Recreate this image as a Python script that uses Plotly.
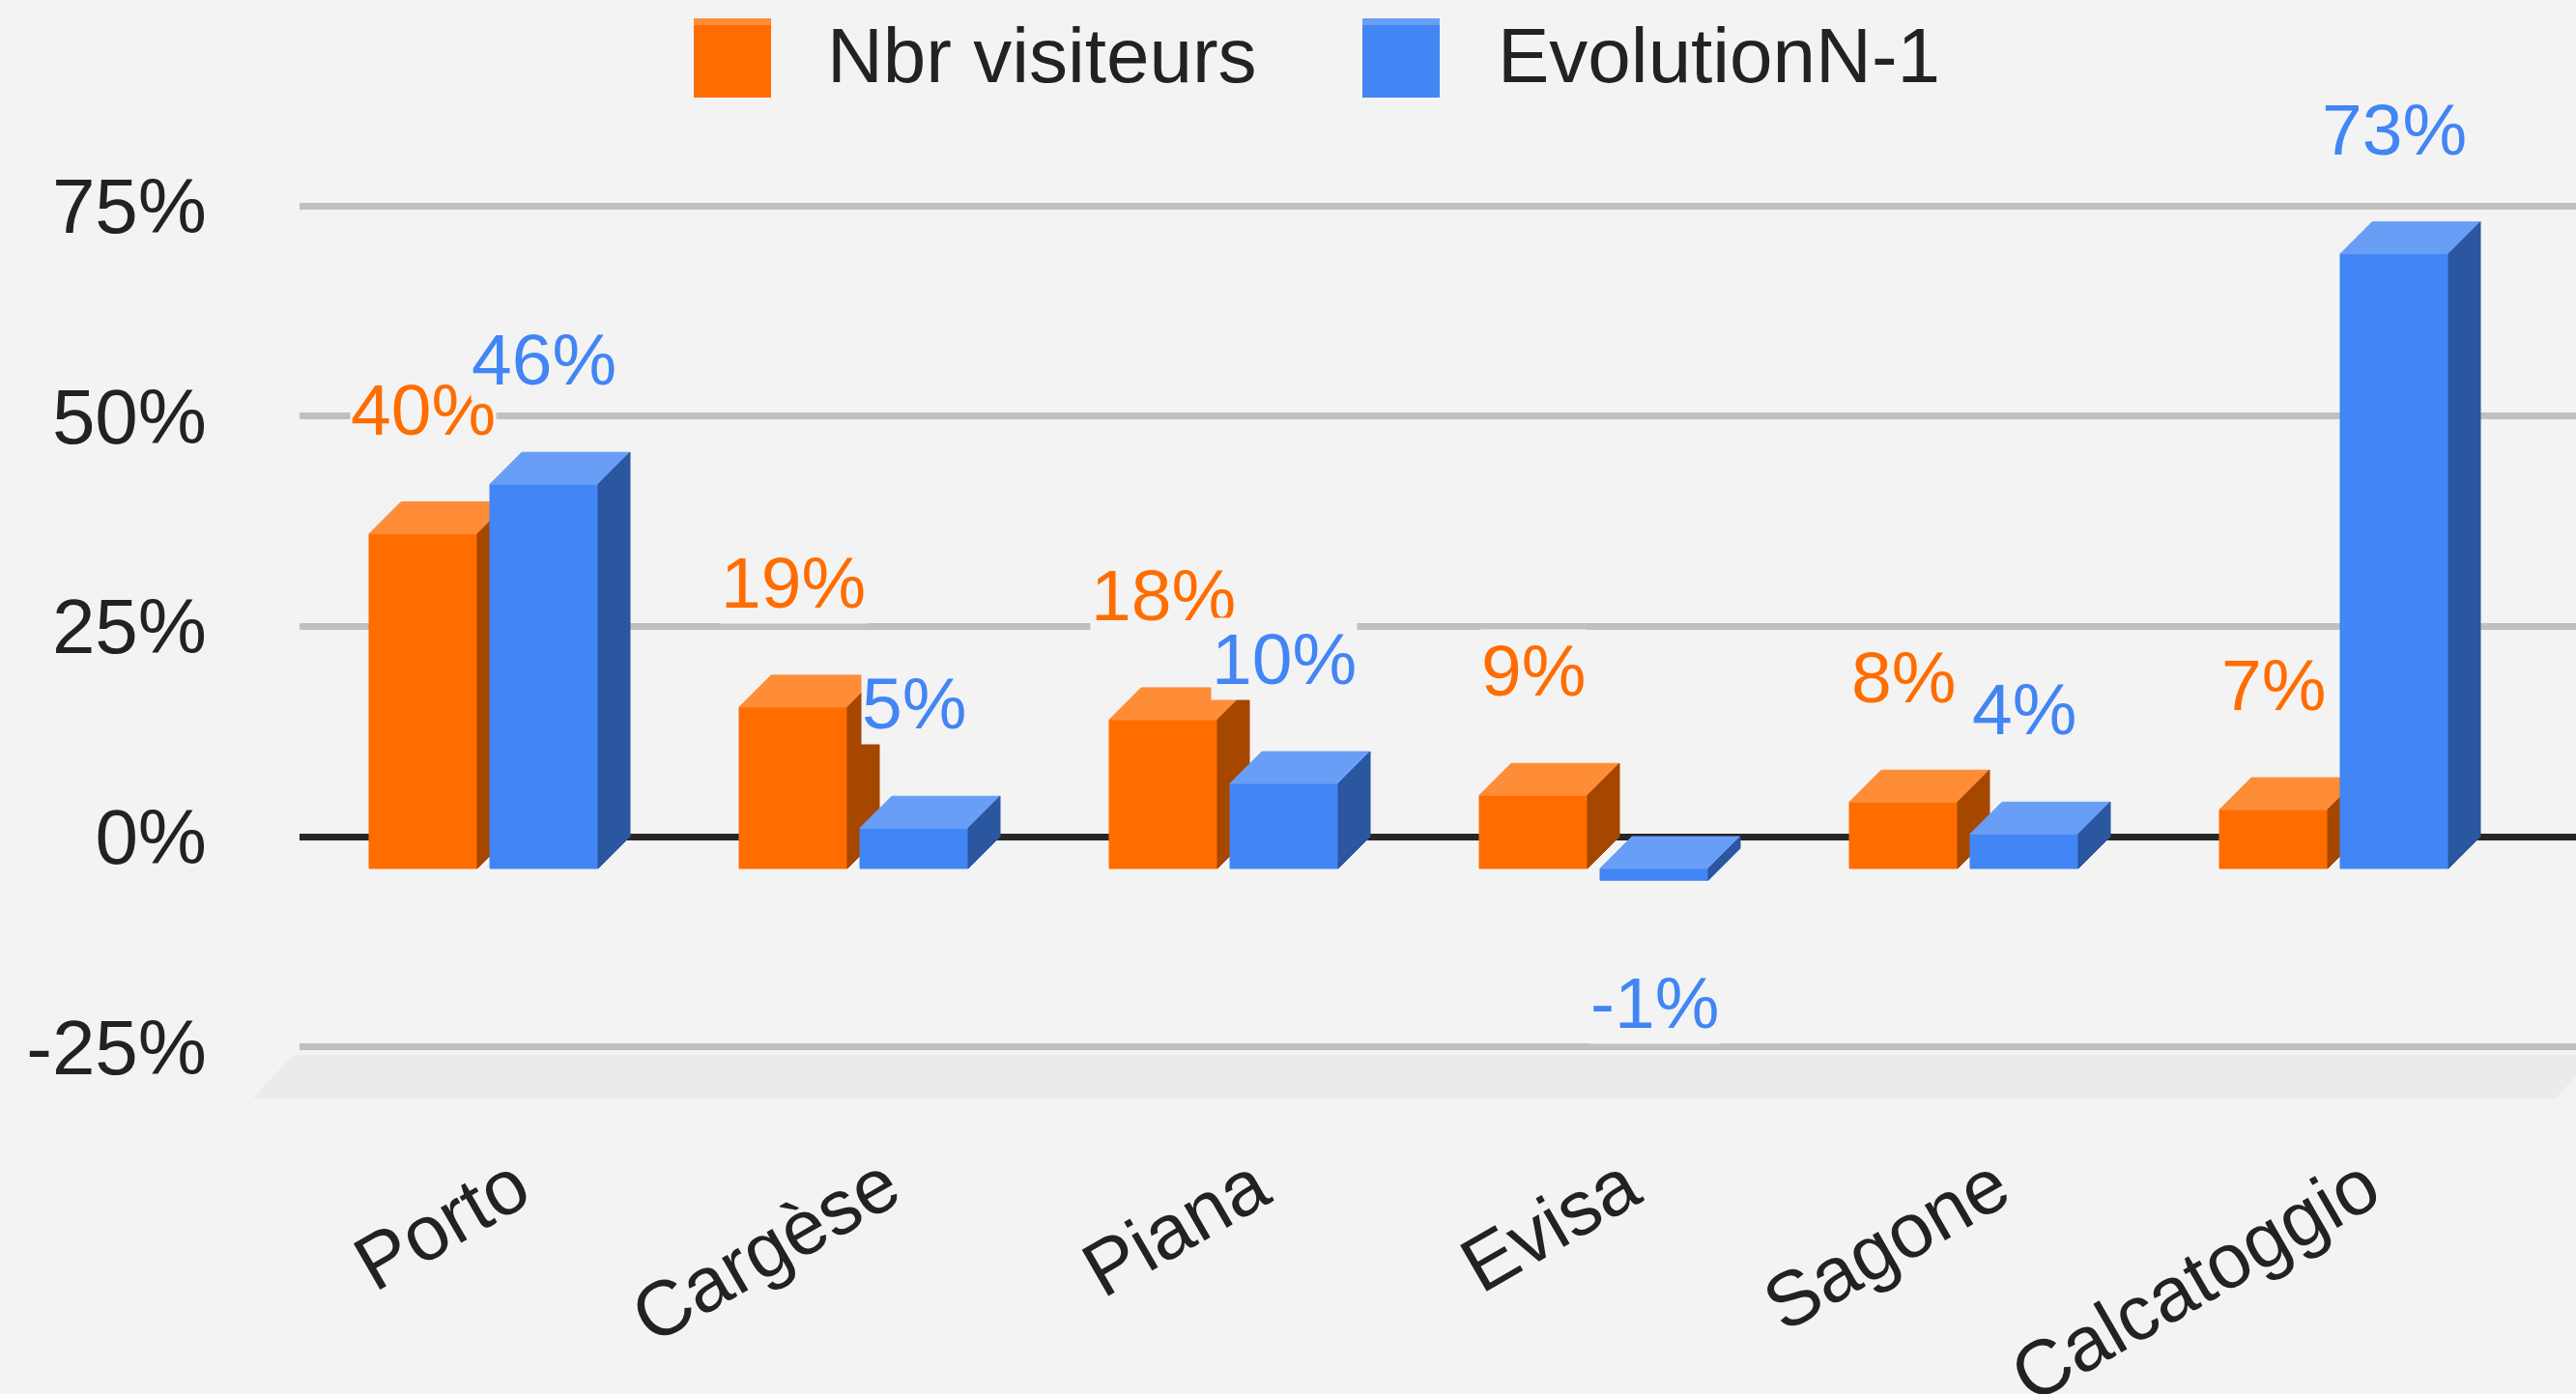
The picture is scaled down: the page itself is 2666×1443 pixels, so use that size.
import plotly.graph_objects as go

# ---------------- data ----------------
categories = ["Porto", "Cargèse", "Piana", "Evisa", "Sagone", "Calcatoggio"]
nbr_visiteurs = [0.398, 0.192, 0.177, 0.087, 0.079, 0.070]
evolution_n1 = [0.457, 0.048, 0.101, -0.014, 0.041, 0.731]
series_names = ["Nbr visiteurs", "EvolutionN-1"]
y_tickvals = [-0.25, 0, 0.25, 0.5, 0.75]
y_ticktext = ["-25%", "0%", "25%", "50%", "75%"]

# ---------------- styling / geometry ----------------
W, H = 2666, 1443
BG = "#f3f3f3"
FONT = "Liberation Sans, Arial, sans-serif"
L_MARGIN = 310
PX_PER_CAT = 383.0      # horizontal pixels per category
PX_PER_UNIT = 870.4     # vertical pixels per 100 %
Y0_PX = 866.0           # pixel row of the 0 % line
CAT0_PX = 533.5         # pixel column of first category centre (back plane)
DEPTH = 33              # 3D depth offset in px
BAR_W = 112             # bar width in px
LABEL_UP = 96           # label centre above bar top (px)
LABEL_DOWN = 160        # label centre below negative bar (px)

x_min = -(CAT0_PX - L_MARGIN) / PX_PER_CAT
x_max = x_min + (W - L_MARGIN) / PX_PER_CAT
y_max = Y0_PX / PX_PER_UNIT
y_min = -(H - Y0_PX) / PX_PER_UNIT


def dx(px):
    return px / PX_PER_CAT


def dy(px):
    return px / PX_PER_UNIT


def px_x(px):
    return (px - L_MARGIN) / (W - L_MARGIN)


def px_y(py):
    return 1 - py / H


series = [
    dict(name=series_names[0], values=nbr_visiteurs, left=-118.5,
         front="#ff6d01", top="#ff8c37", side="#a64700"),
    dict(name=series_names[1], values=evolution_n1, left=6.5,
         front="#4285f4", top="#699ef6", side="#2b56a0"),
]

fig = go.Figure()


def face_trace(xs, ys, color):
    return go.Scatter(x=xs, y=ys, mode="lines", fill="toself",
                      fillcolor=color, line=dict(width=1, color=color),
                      hoverinfo="skip", showlegend=False)


annotations = []
for s in series:
    fx, fy, tx, ty, sx, sy = [], [], [], [], [], []
    ox, oy = dx(DEPTH), dy(DEPTH)
    for i, v in enumerate(s["values"]):
        xl = i + dx(s["left"])
        xr = xl + dx(BAR_W)
        t = max(v, 0.0)
        b = min(v, 0.0)
        fx += [xl - ox, xr - ox, xr - ox, xl - ox, xl - ox, None]
        fy += [b - oy, b - oy, t - oy, t - oy, b - oy, None]
        tx += [xl - ox, xr - ox, xr, xl, xl - ox, None]
        ty += [t - oy, t - oy, t, t, t - oy, None]
        sx += [xr - ox, xr, xr, xr - ox, xr - ox, None]
        sy += [t - oy, t, b, b - oy, t - oy, None]
        # data label
        lx = i + dx(s["left"] + BAR_W / 2 - DEPTH)
        ly = v + dy(LABEL_UP) if v >= 0 else v - dy(LABEL_DOWN)
        annotations.append(dict(
            x=lx, y=ly, xref="x", yref="y", text=f"{round(v * 100):d}%",
            showarrow=False, xanchor="center", yanchor="middle",
            font=dict(family=FONT, size=75, color=s["front"]),
            bgcolor=BG, borderpad=0))
    fig.add_trace(face_trace(fx, fy, s["front"]))
    fig.add_trace(face_trace(tx, ty, s["top"]))
    fig.add_trace(face_trace(sx, sy, s["side"]))

# category labels (rotated)
for i, c in enumerate(categories):
    annotations.append(dict(
        x=i + dx(31), y=px_y(1177), xref="x", yref="paper", text=c,
        showarrow=False, xanchor="right", yanchor="top", textangle=-30,
        font=dict(family=FONT, size=80, color="#222222")))

# custom legend
shapes = []
legend_items = [(series[0], 718, 854), (series[1], 1410, 1548)]
for s, sx0, tx0 in legend_items:
    shapes.append(dict(type="rect", xref="paper", yref="paper",
                       x0=px_x(sx0), x1=px_x(sx0 + 80), y0=px_y(101), y1=px_y(26),
                       fillcolor=s["front"], line=dict(width=0)))
    shapes.append(dict(type="rect", xref="paper", yref="paper",
                       x0=px_x(sx0), x1=px_x(sx0 + 80), y0=px_y(26), y1=px_y(19),
                       fillcolor=s["top"], line=dict(width=0)))
    annotations.append(dict(
        x=px_x(tx0), y=px_y(57), xref="paper", yref="paper", text=s["name"],
        showarrow=False, xanchor="left", yanchor="middle",
        font=dict(family=FONT, size=80, color="#222222")))

# floor of the 3D box
shapes.append(dict(
    type="path", xref="paper", yref="paper", layer="below",
    path=(f"M {px_x(303)},{px_y(1092)} L {px_x(2686)},{px_y(1092)} "
          f"L {px_x(2645)},{px_y(1137)} L {px_x(262)},{px_y(1137)} Z"),
    fillcolor="#ebebeb", line=dict(width=0)))

fig.update_layout(
    width=W, height=H,
    margin=dict(l=L_MARGIN, r=0, t=0, b=0),
    paper_bgcolor=BG, plot_bgcolor=BG,
    showlegend=False,
    xaxis=dict(range=[x_min, x_max], visible=False, fixedrange=True),
    yaxis=dict(range=[y_min, y_max], tickvals=y_tickvals, ticktext=y_ticktext,
               showgrid=True, gridcolor="#c0c0c0", gridwidth=7,
               zeroline=True, zerolinecolor="#262626", zerolinewidth=7,
               showline=False, ticks="", ticklabelstandoff=95,
               tickfont=dict(family=FONT, size=80, color="#222222"),
               fixedrange=True),
    annotations=annotations,
    shapes=shapes,
)

fig.write_html(
    "out.html",
    config={"displayModeBar": False},
    post_script="document.body.style.margin='0';document.body.style.overflow='hidden';",
)
